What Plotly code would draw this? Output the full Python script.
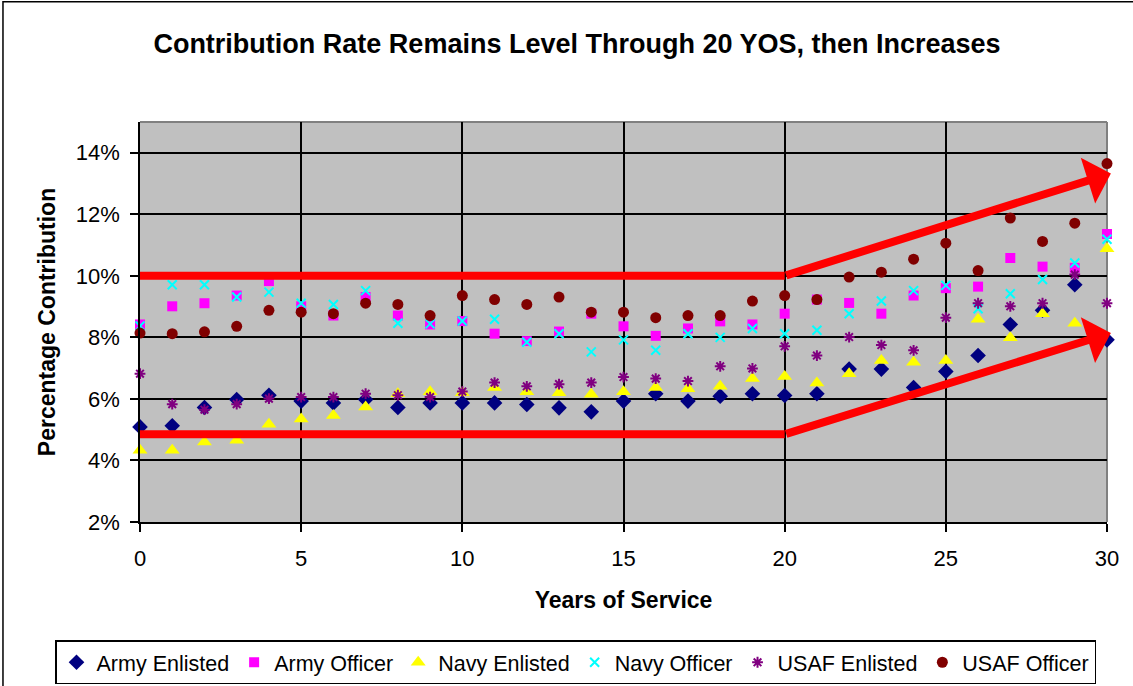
import plotly.graph_objects as go

# Years of service (x axis)
years = list(range(31))

# Contribution rate (%) by service and rank group
army_enlisted = [5.09, 5.13, 5.72, 5.98, 6.12, 5.93, 5.87, 5.98, 5.72, 5.87, 5.87,
                 5.87, 5.82, 5.71, 5.58, 5.93, 6.17, 5.93, 6.09, 6.17, 6.11,
                 6.17, 6.97, 6.97, 6.37, 6.89, 7.41, 8.42, 8.88, 9.71, 7.92]
army_officer = [8.42, 9.01, 9.11, 9.36, 9.83, 9.01, 8.71, 9.31, 8.71, 8.42, 8.53,
                8.12, 7.88, 8.19, 8.77, 8.36, 8.05, 8.29, 8.52, 8.42, 8.77,
                9.23, 9.12, 8.77, 9.36, 9.60, 9.65, 10.58, 10.30, 10.26, 11.36]
navy_enlisted = [4.33, 4.33, 4.60, 4.66, 5.18, 5.35, 5.46, 5.74, 6.17, 6.23, 6.20,
                 6.37, 6.23, 6.20, 6.15, 6.23, 6.37, 6.33, 6.41, 6.66, 6.73,
                 6.52, 6.82, 7.25, 7.19, 7.25, 8.59, 7.99, 8.77, 8.46, 10.88]
navy_officer = [8.37, 9.71, 9.71, 9.31, 9.47, 9.11, 9.07, 9.52, 8.46, 8.44, 8.53,
                8.59, 7.84, 8.12, 7.53, 7.92, 7.58, 8.12, 8.00, 8.29, 8.12,
                8.23, 8.77, 9.18, 9.52, 9.69, 8.93, 9.42, 9.88, 10.42, 11.19]
usaf_enlisted = [6.82, 5.83, 5.65, 5.83, 6.01, 6.06, 6.06, 6.17, 6.12, 6.06, 6.24,
                 6.53, 6.41, 6.48, 6.53, 6.71, 6.66, 6.58, 7.06, 6.99, 7.71,
                 7.41, 8.01, 7.75, 7.58, 8.64, 9.11, 9.01, 9.11, 10.04, 9.11]
usaf_officer = [8.14, 8.12, 8.18, 8.36, 8.88, 8.82, 8.77, 9.11, 9.07, 8.71, 9.36,
                9.23, 9.07, 9.31, 8.82, 8.82, 8.64, 8.71, 8.71, 9.18, 9.36,
                9.23, 9.96, 10.12, 10.54, 11.06, 10.17, 11.88, 11.12, 11.71, 13.65]

# Trend guides: level through 20 YOS, then rising
guide_years = [0, 20, 30.12]
upper_guide = [10.0, 10.0, 13.33]
lower_guide = [4.85, 4.85, 8.14]

x_ticks = [0, 5, 10, 15, 20, 25, 30]
y_ticks = [2, 4, 6, 8, 10, 12, 14]
y_tick_labels = ["2%", "4%", "6%", "8%", "10%", "12%", "14%"]

FONT = "Liberation Sans, Arial, sans-serif"

series = [
    ("Army Enlisted", army_enlisted, dict(symbol="diamond", size=12, color="#000080")),
    ("Army Officer", army_officer, dict(symbol="square", size=10, color="#FF00FF")),
    ("Navy Enlisted", navy_enlisted, dict(symbol="triangle-up", size=13, color="#FFFF00")),
    ("Navy Officer", navy_officer, dict(symbol="x-thin-open", size=9, color="#00FFFF",
                                        line=dict(width=2, color="#00FFFF"))),
    ("USAF Enlisted", usaf_enlisted, dict(symbol="asterisk-open", size=9, color="#800080",
                                          line=dict(width=2, color="#800080"))),
    ("USAF Officer", usaf_officer, dict(symbol="circle", size=11, color="#800000")),
]

fig = go.Figure()
for name, vals, marker in series:
    fig.add_trace(go.Scatter(x=years, y=vals, mode="markers", name=name,
                             marker=marker, cliponaxis=False))

# Flat portion of the guides
for guide in (upper_guide, lower_guide):
    fig.add_trace(go.Scatter(x=guide_years[:2], y=guide[:2], mode="lines",
                             line=dict(color="#FF0000", width=8),
                             showlegend=False, hoverinfo="skip"))

# Rising portion drawn as arrows
for guide in (upper_guide, lower_guide):
    fig.add_annotation(x=guide_years[2], y=guide[2], ax=guide_years[1], ay=guide[1],
                       xref="x", yref="y", axref="x", ayref="y", text="",
                       showarrow=True, arrowhead=1, arrowsize=1.0, arrowwidth=8,
                       arrowcolor="#FF0000")

axis_common = dict(showgrid=True, gridcolor="black", gridwidth=1.5,
                   showline=True, linecolor="black", linewidth=1.5,
                   ticks="outside", tickcolor="black", tickwidth=1.5, ticklen=8,
                   zeroline=False, tickfont=dict(family=FONT, size=22, color="black"))

fig.update_xaxes(range=[0, 30], tickvals=x_ticks, ticklabelstandoff=8,
                 title=dict(text="<b>Years of Service</b>", standoff=22,
                            font=dict(family=FONT, size=23, color="black")),
                 **axis_common)
fig.update_yaxes(range=[2, 15], tickvals=y_ticks, ticktext=y_tick_labels,
                 ticklabelstandoff=6,
                 title=dict(text="<b>Percentage Contribution</b>", standoff=14,
                            font=dict(family=FONT, size=23, color="black")),
                 **axis_common)

# Gray plot-area border on top and right
fig.add_shape(type="line", xref="paper", yref="paper", x0=0, x1=1, y0=1, y1=1,
              line=dict(color="#808080", width=2), layer="between")
fig.add_shape(type="line", xref="paper", yref="paper", x0=1, x1=1, y0=0, y1=1,
              line=dict(color="#808080", width=2), layer="between")
# Chart frame
fig.add_shape(type="rect", xref="paper", yref="paper", x0=-0.1417, x1=1.034,
              y0=-0.446, y1=1.3008, line=dict(color="black", width=1.5), layer="below")

fig.update_layout(
    width=1133, height=686,
    margin=dict(l=140, r=26, t=122, b=164, autoexpand=False),
    paper_bgcolor="white", plot_bgcolor="#C0C0C0",
    font=dict(family=FONT, color="black"),
    title=dict(text="<b>Contribution Rate Remains Level Through 20 YOS, then Increases</b>",
               x=577 / 1133, xanchor="center", xref="container",
               y=1 - 44 / 686, yanchor="middle", yref="container",
               font=dict(family=FONT, size=27, color="black")),
    legend=dict(orientation="h", x=-0.0879, xanchor="left", y=-0.2957, yanchor="top",
                bgcolor="white", bordercolor="black", borderwidth=1.5,
                font=dict(family=FONT, size=21.5, color="black"),
                itemwidth=30, tracegroupgap=0),
    showlegend=True,
)

fig.write_html("out.html")
